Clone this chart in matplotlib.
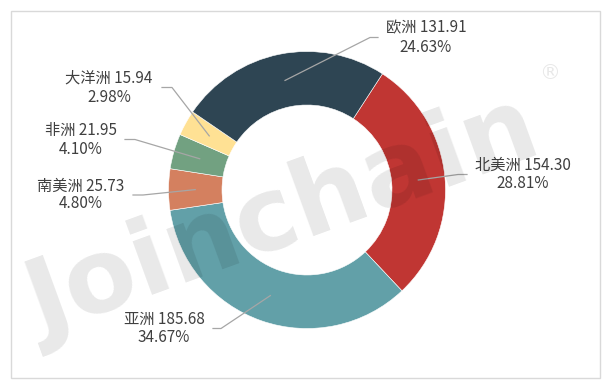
import numpy as np
import matplotlib.pyplot as plt
from matplotlib.patches import Rectangle

plt.rcParams['font.family'] = ['Noto Sans CJK SC', 'DejaVu Sans']

# data (clockwise order starting at the 北美洲 slice)
regions = ['北美洲', '亚洲', '南美洲', '非洲', '大洋洲', '欧洲']
values = [154.30, 185.68, 25.73, 21.95, 15.94, 131.91]
shares = [28.81, 34.67, 4.80, 4.10, 2.98, 24.63]
colors = ['#C03633', '#62A0A8', '#D4805F', '#72A181', '#FFE194', '#2E4553']

# label layout in pixels (y from top): text centre x, line1 y, line2 y, elbow x, end x
label_pos = {
    '北美洲': (523, 165, 184, 458, 467),
    '亚洲': (164, 319, 338, 221, 213),
    '南美洲': (81, 186, 204, 143, 133),
    '非洲': (81, 130, 149, 135, 125),
    '大洋洲': (109, 78, 97, 172, 162),
    '欧洲': (426, 28, 47, 370, 378),
}

W, H = 606, 387
cx, cy = 307, 190
R_out, R_in = 138.5, 85


def Y(y):
    return H - y


fig = plt.figure(figsize=(W / 100, H / 100), dpi=100)
ax = fig.add_axes([0, 0, 1, 1])

wedges, _ = ax.pie(values, colors=colors, startangle=57, counterclock=False,
                   center=(cx, Y(cy)), radius=R_out,
                   wedgeprops=dict(width=R_out - R_in, edgecolor='white', linewidth=0.4))

# labels with leader lines
r_mid = (R_out + R_in) / 2
for w, name, v, s in zip(wedges, regions, values, shares):
    ang = np.deg2rad((w.theta1 + w.theta2) / 2)
    x0 = cx + r_mid * np.cos(ang)
    y0 = Y(cy) + r_mid * np.sin(ang)
    tx, y1, y2, ex, endx = label_pos[name]
    ym = Y((y1 + y2) / 2)
    ax.plot([x0, ex, endx], [y0, ym, ym], color='#A6A6A6', lw=0.9, zorder=3)
    ax.text(tx, Y(y1), f'{name} {v:.2f}', ha='center', va='center',
            fontsize=11, color='#404040', zorder=4)
    ax.text(tx, Y(y2), f'{s:.2f}%', ha='center', va='center',
            fontsize=11, color='#404040', zorder=4)

# watermark
ax.text(42, Y(337), 'Joinchain', rotation=20, rotation_mode='anchor',
        ha='left', va='baseline', fontsize=75, fontweight='bold',
        family='DejaVu Sans', color='black', alpha=0.09, zorder=5)
ax.text(550, Y(73), '®', ha='center', va='center', fontsize=15,
        family='DejaVu Sans', color='black', alpha=0.09, zorder=5)

# frame
ax.add_patch(Rectangle((11, Y(378)), 589, 367, fill=False,
                       edgecolor='#D9D9D9', lw=1, zorder=6))

ax.set_xlim(0, W)
ax.set_ylim(0, H)
ax.set_aspect('equal')
ax.axis('off')

fig.savefig('out.png', dpi=100)
